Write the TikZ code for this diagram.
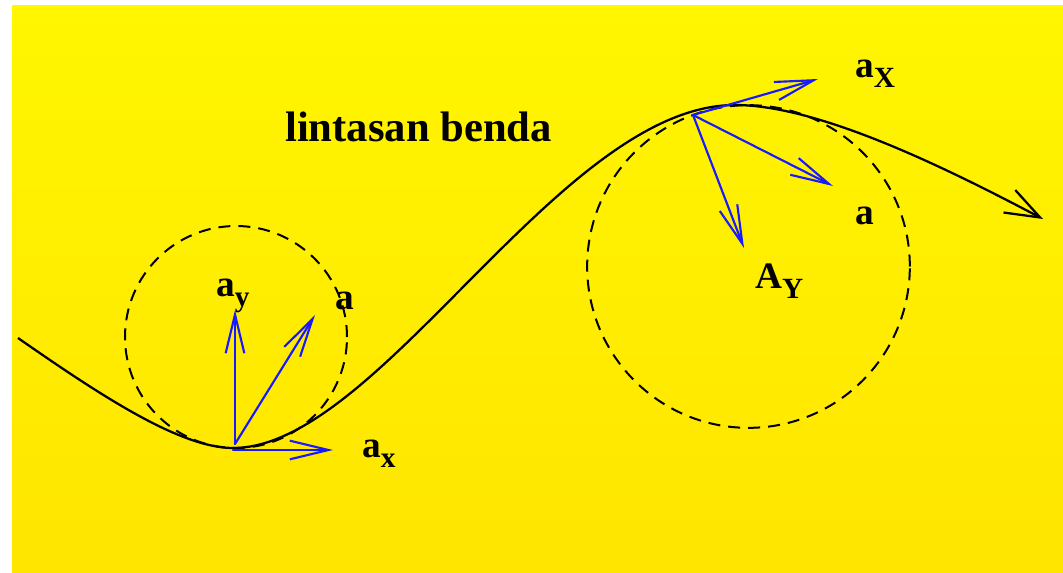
\documentclass[tikz,border=0pt]{standalone}
\usepackage{fontspec}
\setmainfont{Liberation Serif}
\usetikzlibrary{arrows.meta}
\definecolor{bgtop}{RGB}{255,246,0}
\definecolor{bgbot}{RGB}{255,229,0}
\definecolor{vecblue}{RGB}{25,25,255}
\tikzset{
  vec/.style={draw=vecblue, line width=1.6pt, line cap=round,
    -{Straight Barb[length=29pt,width=14pt,line width=1.6pt]}},
  pathline/.style={draw=black, line width=1.7pt,
    -{Straight Barb[length=26pt,width=19pt,line width=1.7pt]}},
  dashcirc/.style={draw=black, line width=1.5pt, dash pattern=on 9pt off 6pt},
  lbl/.style={inner sep=0pt, anchor=base west, font=\fontsize{28}{28}\selectfont\bfseries},
  ttl/.style={inner sep=0pt, anchor=base west, font=\fontsize{32}{32}\selectfont\bfseries}
}
\newcommand{\sbx}[1]{\raisebox{-8pt}{\fontsize{22}{22}\selectfont\bfseries #1}}
\begin{document}
\begin{tikzpicture}[x=0.75pt,y=-0.75pt]
\useasboundingbox (0,0) rectangle (1063,572);
\fill[white] (0,0) rectangle (1063,572);
\shade[top color=bgtop, bottom color=bgbot] (12,5) rectangle (1063,572);

% dashed osculating circles
\draw[dashcirc] (236,337) circle[radius=83.25pt];
\draw[dashcirc] (748.5,266.5) circle[radius=121pt];

% trajectory
\coordinate (p0) at (18,338);
\coordinate (pmin) at (233,448);
\coordinate (pmax) at (735,105);
\coordinate (pend) at (1043,219);
\draw[pathline] (p0) .. controls (100,395) and (180,448) .. (pmin)
  .. controls (380,448) and (560,105) .. (pmax)
  .. controls (820,105) and (950,170) .. (pend);

% left vectors
\coordinate (o1) at (235,444);
\coordinate (e1y) at (235,310);
\coordinate (e1a) at (315,315);
\coordinate (e1x) at (333,450);
\draw[vec] (o1) -- (e1y);
\draw[vec] (o1) -- (e1a);
\draw[vec] (233,450) -- (e1x);

% right vectors
\coordinate (o2) at (693,115);
\coordinate (e2x) at (818,79);
\coordinate (e2a) at (833,186);
\coordinate (e2y) at (744,248);
\draw[vec] (o2) -- (e2x);
\draw[vec] (o2) -- (e2a);
\draw[vec] (o2) -- (e2y);

% labels
\node[ttl] (title) at (285,141) {lintasan benda};
\node[lbl] (lay) at (216,296) {a\sbx{y}};
\node[lbl] (la1) at (335,309) {a};
\node[lbl] (lax) at (362,457) {a\sbx{x}};
\node[lbl] (laX) at (855,77) {a\sbx{X}};
\node[lbl] (la2) at (855,224) {a};
\node[lbl] (lAY) at (755,288) {A\sbx{Y}};
\end{tikzpicture}
\end{document}
